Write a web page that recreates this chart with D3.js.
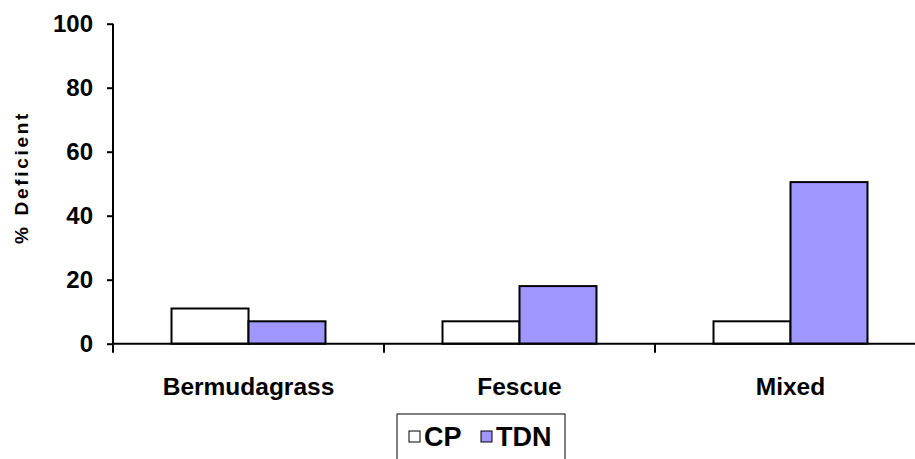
<!DOCTYPE html>
<html>
<head>
<meta charset="utf-8">
<script src="https://cdn.jsdelivr.net/npm/d3@7"></script>
<style>
  body { margin: 0; background: #fff; }
  svg { display: block; font-family: "Liberation Sans", Arial, sans-serif; }
</style>
</head>
<body>
<script>
// data
const categories = ["Bermudagrass", "Fescue", "Mixed"];
const seriesNames = ["CP", "TDN"];
const cpValues = [11, 7, 7];
const tdnValues = [7, 18, 50.5];
const yTicks = [0, 20, 40, 60, 80, 100];

const width = 915, height = 459;
const colors = { CP: "#ffffff", TDN: "#a096ff" };

const svg = d3.select("body").append("svg")
  .attr("width", width)
  .attr("height", height);

const x0 = d3.scaleBand()
  .domain(categories)
  .range([113, 926])
  .paddingInner(0)
  .paddingOuter(0);

const x1 = d3.scaleBand()
  .domain(seriesNames)
  .range([0, x0.bandwidth()])
  .paddingInner(0)
  .paddingOuter(0.76);

const y = d3.scaleLinear()
  .domain([0, 100])
  .range([343.7, 23.7]);

const rows = categories.map((c, i) => ({ cat: c, CP: cpValues[i], TDN: tdnValues[i] }));

// bars
const groups = svg.append("g")
  .selectAll("g")
  .data(rows)
  .join("g")
    .attr("transform", d => `translate(${x0(d.cat)},0)`);

groups.selectAll("rect")
  .data(d => seriesNames.map(s => ({ s, v: d[s] })))
  .join("rect")
    .attr("x", d => x1(d.s))
    .attr("y", d => y(d.v))
    .attr("width", x1.bandwidth())
    .attr("height", d => y(0) - y(d.v))
    .attr("fill", d => colors[d.s])
    .attr("stroke", "#000")
    .attr("stroke-width", 2);

// y axis
const yAxis = svg.append("g")
  .attr("transform", `translate(${x0.range()[0]},0)`)
  .call(d3.axisLeft(y).tickValues(yTicks).tickSize(6).tickPadding(14));
yAxis.select(".domain").remove();
yAxis.append("line")
  .attr("x1", 0).attr("x2", 0)
  .attr("y1", y(100)).attr("y2", y(0) + 9)
  .attr("stroke", "#000").attr("stroke-width", 2);
yAxis.selectAll(".tick line").attr("stroke-width", 2);
yAxis.selectAll(".tick text")
  .attr("fill", "#000")
  .style("font-size", "24px")
  .style("font-weight", "bold");

// x axis
const xAxis = svg.append("g")
  .attr("transform", `translate(0,${y(0)})`);
xAxis.append("line")
  .attr("x1", x0.range()[0]).attr("x2", x0.range()[1])
  .attr("stroke", "#000").attr("stroke-width", 2);
xAxis.selectAll(".sep")
  .data(categories.slice(1))
  .join("line")
    .attr("class", "sep")
    .attr("x1", d => x0(d)).attr("x2", d => x0(d))
    .attr("y1", 0).attr("y2", 9)
    .attr("stroke", "#000").attr("stroke-width", 2);
xAxis.selectAll(".cat")
  .data(categories)
  .join("text")
    .attr("class", "cat")
    .attr("x", d => x0(d) + x0.bandwidth() / 2)
    .attr("y", 51)
    .attr("text-anchor", "middle")
    .style("font-size", "24.5px")
    .style("font-weight", "bold")
    .text(d => d);

// y title
const yTitle = svg.append("text")
  .attr("transform", "translate(28,244) rotate(-90)")
  .style("font-size", "19px")
  .style("font-weight", "bold")
  .style("letter-spacing", "2.7px");
yTitle.append("tspan").text("%");
yTitle.append("tspan").attr("dx", 9).text("Deficient");

// legend
const legend = svg.append("g").attr("transform", "translate(397,414)");
legend.append("rect")
  .attr("width", 168).attr("height", 50)
  .attr("fill", "#fff")
  .attr("stroke", "#000").attr("stroke-width", 1);

const legendX = [12, 84];
const items = legend.selectAll(".item")
  .data(seriesNames)
  .join("g")
    .attr("class", "item")
    .attr("transform", (d, i) => `translate(${legendX[i]},17)`);
items.append("rect")
  .attr("width", 11).attr("height", 11)
  .attr("fill", d => colors[d])
  .attr("stroke", "#000").attr("stroke-width", 1);
items.append("text")
  .attr("x", 15)
  .attr("y", 15)
  .style("font-size", "27px")
  .style("font-weight", "bold")
  .text(d => d);
</script>
</body>
</html>
